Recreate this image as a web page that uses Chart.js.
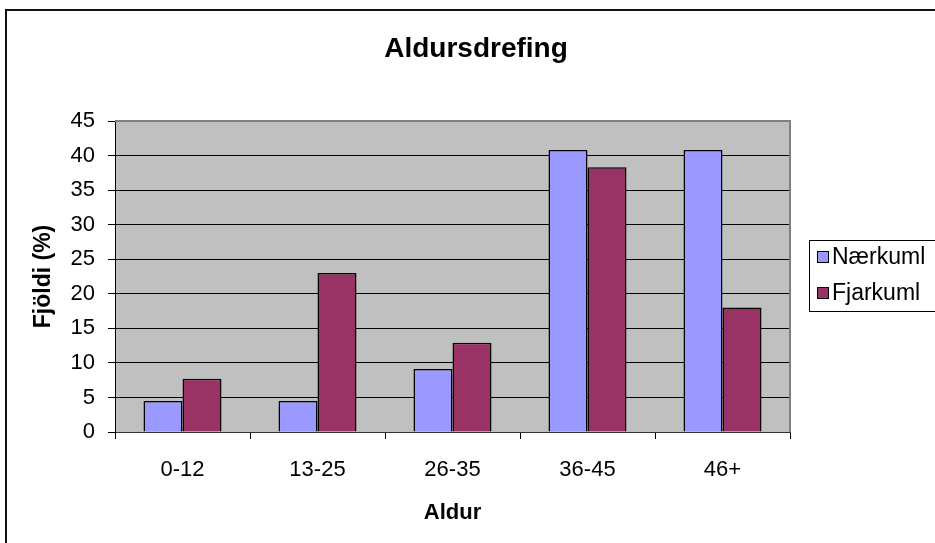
<!DOCTYPE html>
<html>
<head>
<meta charset="utf-8">
<title>Aldursdrefing</title>
<script src="https://cdn.jsdelivr.net/npm/chart.js@4.4.1/dist/chart.umd.min.js"></script>
<style>
  html, body { margin: 0; padding: 0; background: #fff; }
  #wrap { width: 935px; height: 543px; }
</style>
</head>
<body>
<div id="wrap"><canvas id="chart" width="935" height="543"></canvas></div>
<script>
// Data
const categories = ['0-12', '13-25', '26-35', '36-45', '46+'];
const naerkuml = [4.5, 4.5, 9.1, 40.8, 40.8];
const fjarkuml = [7.7, 23.0, 12.9, 38.3, 18.0];
const seriesNames = ['Nærkuml', 'Fjarkuml'];
const yMax = 45;
const yStep = 5;

const FONT = '"Liberation Sans", Arial, sans-serif';
const BLUE = '#9999ff';
const MAROON = '#993366';

// Frame, plot background, title and legend (Excel-like look)
const excelFrame = {
    id: 'excelFrame',
    beforeDraw(chart) {
        const { ctx, chartArea: a } = chart;
        ctx.save();
        ctx.fillStyle = '#fff';
        ctx.fillRect(0, 0, chart.width, chart.height);
        ctx.fillStyle = '#c0c0c0';
        ctx.fillRect(a.left, a.top, a.right - a.left, a.bottom - a.top);
        ctx.restore();
    },
    beforeDatasetsDraw(chart) {
        const { ctx, chartArea: a } = chart;
        ctx.save();
        ctx.strokeStyle = '#808080';
        ctx.lineWidth = 2;
        ctx.beginPath();
        ctx.moveTo(a.left, a.top);
        ctx.lineTo(a.right, a.top);
        ctx.lineTo(a.right, a.bottom);
        ctx.stroke();
        ctx.restore();
    },
    afterDraw(chart) {
        const { ctx } = chart;
        ctx.save();
        // outer chart border (runs off the right and bottom edges)
        ctx.strokeStyle = '#111';
        ctx.lineWidth = 2;
        ctx.strokeRect(6, 10, 960, 560);

        // title
        ctx.fillStyle = '#000';
        ctx.font = 'bold 28px ' + FONT;
        ctx.textAlign = 'center';
        ctx.textBaseline = 'alphabetic';
        ctx.fillText('Aldursdrefing', 476, 56.5);

        // legend box
        ctx.lineWidth = 1;
        ctx.strokeStyle = '#000';
        ctx.fillStyle = '#fff';
        ctx.fillRect(809.5, 240.5, 150, 71);
        ctx.strokeRect(809.5, 240.5, 150, 71);
        ctx.font = '23px ' + FONT;
        ctx.textAlign = 'left';
        ctx.textBaseline = 'middle';
        chart.data.datasets.forEach((ds, i) => {
            const y = 257 + i * 36;
            ctx.fillStyle = ds.backgroundColor;
            ctx.fillRect(817.5, y - 5.5, 11, 11);
            ctx.strokeRect(817.5, y - 5.5, 11, 11);
            ctx.fillStyle = '#000';
            ctx.fillText(ds.label, 832, y + 1);
        });
        ctx.restore();
    }
};

new Chart(document.getElementById('chart'), {
    type: 'bar',
    data: {
        labels: categories,
        datasets: [
            {
                label: seriesNames[0],
                data: naerkuml,
                backgroundColor: BLUE,
                borderColor: '#000',
                borderWidth: 1.5,
            },
            {
                label: seriesNames[1],
                data: fjarkuml,
                backgroundColor: MAROON,
                borderColor: '#000',
                borderWidth: 1.5,
            },
        ],
    },
    options: {
        responsive: false,
        animation: false,
        devicePixelRatio: 1,
        layout: { padding: { top: 121, right: 145, bottom: 0, left: 0 } },
        datasets: {
            bar: { categoryPercentage: 0.578, barPercentage: 1.0 },
        },
        plugins: {
            legend: { display: false },
            title: { display: false },
            tooltip: { enabled: false },
        },
        scales: {
            x: {
                grid: {
                    offset: true,
                    drawOnChartArea: false,
                    drawTicks: true,
                    tickLength: 7,
                    color: '#000',
                },
                border: { color: '#333', width: 1 },
                ticks: {
                    padding: 18,
                    color: '#000',
                    font: { family: FONT, size: 22 },
                },
                title: {
                    display: true,
                    text: 'Aldur',
                    color: '#000',
                    font: { family: FONT, size: 22, weight: 'bold' },
                    padding: { top: 0, bottom: 17 },
                },
                afterFit(scale) { scale.height = 111; },
            },
            y: {
                min: 0,
                max: yMax,
                grid: {
                    color: '#000',
                    lineWidth: 1,
                    tickLength: 7,
                },
                border: { color: '#000', width: 1 },
                ticks: {
                    stepSize: yStep,
                    padding: 13,
                    color: '#000',
                    font: { family: FONT, size: 22 },
                },
                title: {
                    display: true,
                    text: 'Fjöldi (%)',
                    color: '#000',
                    font: { family: FONT, size: 23, weight: 'bold' },
                    padding: { top: 30, bottom: 0 },
                },
                afterFit(scale) { scale.width = 115; },
            },
        },
    },
    plugins: [excelFrame],
});
</script>
</body>
</html>
